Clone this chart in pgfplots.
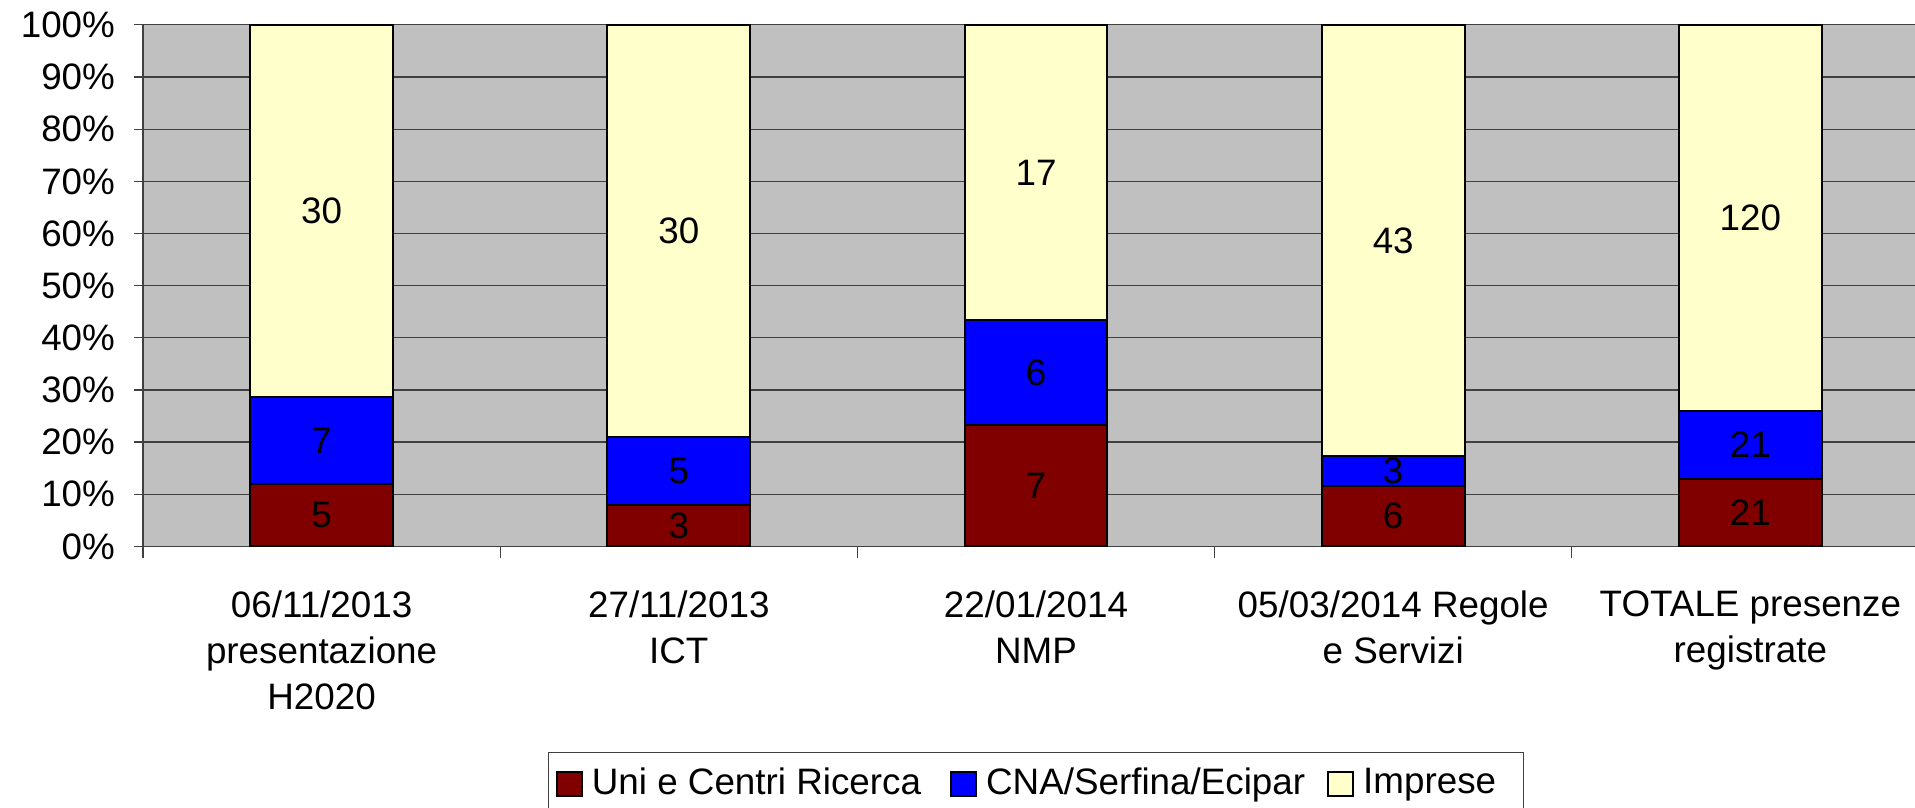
\documentclass[border=0pt]{standalone}
\usepackage{fontspec}
\setmainfont{Liberation Sans}
\usepackage{pgfplots}
\usepackage{pgfplotstable}
\pgfplotsset{compat=1.18}
\definecolor{cuni}{HTML}{800000}
\definecolor{ccna}{HTML}{0000FF}
\definecolor{cimp}{HTML}{FFFFCC}
\definecolor{cbg}{HTML}{C0C0C0}
\definecolor{cgrid}{HTML}{404040}
\newcommand{\lab}{\fontsize{18.4}{23}\selectfont}

% x: category, n: count, p: share of the bar (%), m: middle of the segment (%)
\pgfplotstableread{
x n p m
0 5 11.905 5.952
1 3 7.895 3.947
2 7 23.333 11.667
3 6 11.538 5.769
4 21 12.963 6.481
}\uni
\pgfplotstableread{
x n p m
0 7 16.667 20.238
1 5 13.158 14.474
2 6 20.000 33.333
3 3 5.769 14.423
4 21 12.963 19.444
}\cna
\pgfplotstableread{
x n p m
0 30 71.429 64.286
1 30 78.947 60.526
2 17 56.667 71.667
3 43 82.692 58.654
4 120 74.074 62.963
}\imp

\pgfplotsset{
  lsq/.style={legend image code/.code={\draw[##1,line width=1pt] (0pt,-3.3pt) rectangle (12.5pt,8.7pt);}},
  geom/.style={at={(0,0)}, anchor=south west,
    scale only axis, width=893pt, height=260.75pt,
    xmin=-0.5, xmax=4.5, ymin=0, ymax=100},
}

\begin{document}
\begin{tikzpicture}
\path[use as bounding box] (-71.5pt,-130.5pt) rectangle (886pt,273.2pt);
\begin{axis}[
  geom,
  ybar stacked, bar width=71.45pt,
  axis background/.style={fill=cbg},
  axis line style={draw=cgrid, line width=0.6pt},
  xtick={0,1,2,3,4},
  xticklabels={{06/11/2013\\presentazione\\H2020},{27/11/2013\\ICT},{22/01/2014\\NMP},{05/03/2014 Regole\\e Servizi},{TOTALE presenze\\registrate}},
  minor xtick={-0.5,0.5,1.5,2.5,3.5},
  major x tick style={draw=none},
  minor x tick style={draw=cgrid, line width=0.6pt},
  y tick style={draw=cgrid, line width=0.6pt},
  major tick length=4.5pt, minor tick length=6pt,
  tick align=outside, tick pos=left,
  ytick={0,10,...,100},
  yticklabel={\pgfmathprintnumber{\tick}\%},
  /pgf/number format/assume math mode=true,
  ymajorgrids, grid style={draw=cgrid, line width=0.6pt},
  tick label style={font=\lab},
  yticklabel style={xshift=-6pt},
  xticklabel style={align=center, yshift=-14pt},
  legend style={at={(0.5,-0.3933)}, anchor=north, legend columns=3, draw=cgrid, line width=0.6pt, fill=white, font=\lab, inner xsep=3.5pt, inner ysep=5.7pt, nodes={inner sep=2pt, text depth=9pt}, /tikz/every odd column/.append style={column sep=2.5pt}, /tikz/every even column/.append style={column sep=7.5pt}},
]
\addplot[fill=cuni, draw=black, line width=1pt, lsq] table[x=x, y=p] {\uni};
\addplot[fill=ccna, draw=black, line width=1pt, lsq] table[x=x, y=p] {\cna};
\addplot[fill=cimp, draw=black, line width=1pt, lsq] table[x=x, y=p] {\imp};
\legend{Uni e Centri Ricerca\rule{5pt}{0pt}, CNA/Serfina/Ecipar\rule{1.5pt}{0pt}, Imprese\rule{8pt}{0pt}}
\end{axis}
\begin{axis}[
  geom, hide axis,
  nodes near coords, point meta=explicit symbolic,
  every node near coord/.append style={anchor=center, font=\lab, text=black},
]
\addplot[draw=none, mark=none, nodes near coords] table[x=x, y=m, meta=n] {\uni};
\addplot[draw=none, mark=none, nodes near coords] table[x=x, y=m, meta=n] {\cna};
\addplot[draw=none, mark=none, nodes near coords] table[x=x, y=m, meta=n] {\imp};
\end{axis}
\end{tikzpicture}
\end{document}
